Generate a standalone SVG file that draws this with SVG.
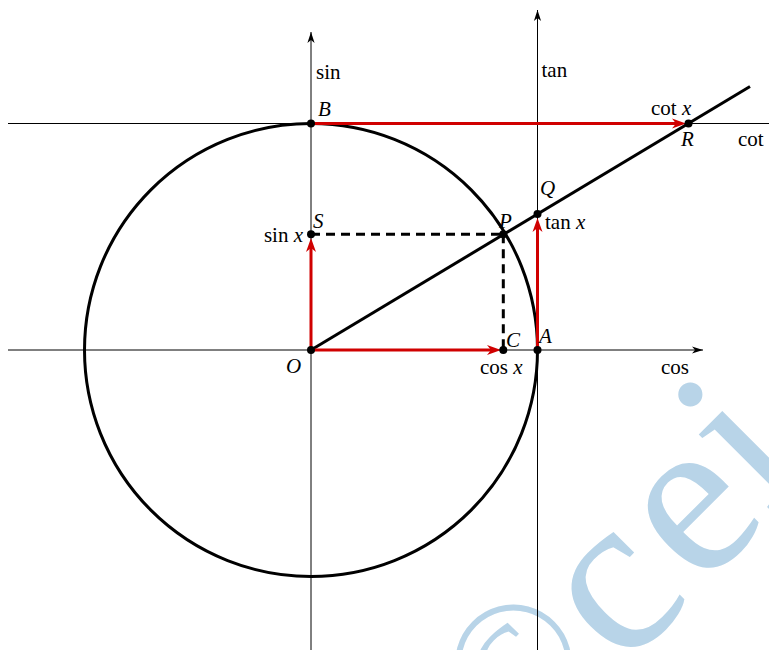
<svg xmlns="http://www.w3.org/2000/svg" width="769" height="650" viewBox="0 0 769 650">
<style>
.axis{stroke:#000;stroke-width:1;fill:none}
.thick{stroke:#000;stroke-width:3;fill:none}
.dash{stroke:#000;stroke-width:3;fill:none;stroke-dasharray:9 6}
.red{stroke:#d00000;stroke-width:3;fill:none}
.dot{fill:#000}
.lbl{font-size:21px;fill:#000}
.it{font-style:italic}
.wm{font-size:228px;fill:#b8d4e8}
</style>
<defs>
<marker id="ax" viewBox="-12 -5 13 10" refX="0" refY="0" markerWidth="13" markerHeight="10" markerUnits="userSpaceOnUse" orient="auto">
<path d="M0,0 L-11,-3.6 L-8,0 L-11,3.6 Z" fill="#000"/>
</marker>
<marker id="rd" viewBox="-16 -6 17 12" refX="-10" refY="0" markerWidth="17" markerHeight="12" markerUnits="userSpaceOnUse" orient="auto">
<path d="M0,0 L-14,-5 L-10,0 L-14,5 Z" fill="#d00000"/>
</marker>
</defs>
<rect width="769" height="650" fill="#fff"/>
<g id="watermark" font-family="Liberation Serif, DejaVu Serif, serif">
<text class="wm" transform="rotate(-45)"><tspan x="-171" y="888" font-size="172">©</tspan><tspan x="-34 78 179" y="914 912 906">cei</tspan></text>
</g>
<g id="connectors">
<line class="axis" x1="8" y1="123.5" x2="769" y2="123.5"/>
<line class="axis" x1="8" y1="350" x2="703" y2="350" marker-end="url(#ax)"/>
<line class="axis" x1="311" y1="650" x2="311" y2="32" marker-end="url(#ax)"/>
<line class="axis" x1="537.5" y1="650" x2="537.5" y2="10" marker-end="url(#ax)"/>
<circle class="thick" cx="311" cy="350" r="226.5"/>
<line class="dash" x1="311" y1="234.3" x2="503.3" y2="234.3"/>
<line class="dash" x1="503.3" y1="234.3" x2="503.3" y2="350"/>
<line class="thick" x1="311" y1="350" x2="750" y2="86.5"/>
<line class="red" x1="311" y1="350" x2="491" y2="350" marker-end="url(#rd)"/>
<line class="red" x1="311" y1="350" x2="311" y2="248" marker-end="url(#rd)"/>
<line class="red" x1="537.5" y1="350" x2="537.5" y2="228" marker-end="url(#rd)"/>
<line class="red" x1="311" y1="123.5" x2="676" y2="123.5" marker-end="url(#rd)"/>
</g>
<g font-family="Liberation Serif, DejaVu Serif, serif">
<g id="O"><circle class="dot" cx="311" cy="350" r="4"/><text class="lbl it" x="286" y="373">O</text></g>
<g id="C"><circle class="dot" cx="503.3" cy="350" r="4"/><text class="lbl it" x="506" y="346.5">C</text><text class="lbl" x="480" y="373.5">cos <tspan class="it">x</tspan></text></g>
<g id="A"><circle class="dot" cx="537.5" cy="350" r="4"/><text class="lbl it" x="539" y="343">A</text></g>
<g id="S"><circle class="dot" cx="311" cy="234.3" r="4"/><text class="lbl it" x="313" y="228">S</text><text class="lbl" x="303" y="241.5" text-anchor="end">sin <tspan class="it">x</tspan></text></g>
<g id="P"><circle class="dot" cx="503.3" cy="234.3" r="4"/><text class="lbl it" x="499" y="228">P</text></g>
<g id="Q"><circle class="dot" cx="537.5" cy="214" r="4"/><text class="lbl it" x="540" y="195">Q</text><text class="lbl" x="545" y="229">tan <tspan class="it">x</tspan></text></g>
<g id="B"><circle class="dot" cx="311" cy="123.5" r="4"/><text class="lbl it" x="318" y="116">B</text></g>
<g id="R"><circle class="dot" cx="688.5" cy="123.5" r="4"/><text class="lbl it" x="681" y="146">R</text><text class="lbl" x="651" y="115">cot <tspan class="it">x</tspan></text></g>
<g id="axis-labels">
<text class="lbl" x="316" y="79">sin</text>
<text class="lbl" x="541.5" y="77">tan</text>
<text class="lbl" x="661" y="374">cos</text>
<text class="lbl" x="738" y="146">cot</text>
</g>
</g>
</svg>
